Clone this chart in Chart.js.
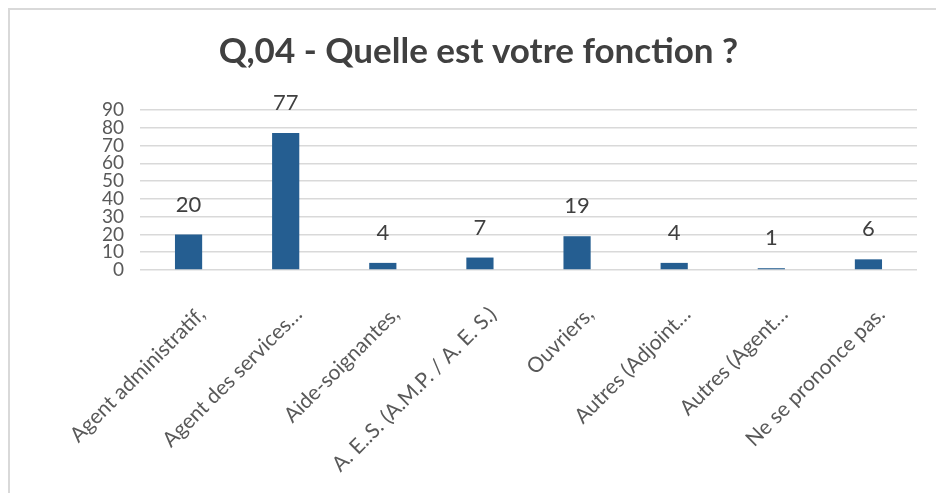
<!DOCTYPE html>
<html>
<head>
<meta charset="utf-8">
<script src="https://cdn.jsdelivr.net/npm/chart.js@4.4.1/dist/chart.umd.min.js"></script>
<style>
  html, body { margin: 0; padding: 0; background: #ffffff; }
  #wrap { position: relative; width: 936px; height: 493px; overflow: hidden; }
  #frame { position: absolute; left: 8px; top: 8px; width: 940px; height: 500px;
           border-left: 2px solid #d9d9d9; border-top: 2px solid #d9d9d9; box-sizing: border-box; }
  canvas { position: absolute; left: 0; top: 0; }
</style>
</head>
<body>
<div id="wrap">
  <div id="frame"></div>
  <canvas id="c" width="936" height="493"></canvas>
</div>
<script>
const titleText = "Q,04 - Quelle est votre fonction ?";
const categories = [
  "Agent administratif,",
  "Agent des services…",
  "Aide-soignantes,",
  "A. E..S. (A.M.P. / A. E. S.)",
  "Ouvriers,",
  "Autres (Adjoint…",
  "Autres (Agent…",
  "Ne se prononce pas."
];
const values = [20, 77, 4, 7, 19, 4, 1, 6];
const yTicks = [0, 10, 20, 30, 40, 50, 60, 70, 80, 90];

const FONT = "Lato, 'Open Sans', sans-serif";

const dataLabels = {
  id: 'dataLabels',
  afterDatasetsDraw(chart) {
    const ctx = chart.ctx;
    const meta = chart.getDatasetMeta(0);
    ctx.save();
    ctx.font = "22px " + FONT;
    ctx.fillStyle = "#404040";
    ctx.textAlign = "center";
    ctx.textBaseline = "middle";
    meta.data.forEach((bar, i) => {
      ctx.fillText(String(values[i]), bar.x, bar.y - 30);
    });
    ctx.restore();
  }
};

new Chart(document.getElementById('c'), {
  type: 'bar',
  data: {
    labels: categories,
    datasets: [{
      data: values,
      backgroundColor: '#255E91',
      borderWidth: 0,
      categoryPercentage: 0.28,
      barPercentage: 1
    }]
  },
  options: {
    responsive: false,
    animation: false,
    layout: { padding: { left: 40, right: 19, top: 0, bottom: 0 } },
    plugins: {
      legend: { display: false },
      tooltip: { enabled: false },
      title: {
        display: true,
        text: titleText,
        color: '#404040',
        font: { family: FONT, size: 35, weight: 'bold', lineHeight: 1.2 },
        padding: { top: 31, bottom: 37 }
      }
    },
    scales: {
      y: {
        min: 0, max: 90,
        afterFit(scale) { scale.width = 100; },
        afterBuildTicks(scale) { scale.ticks = yTicks.map(v => ({ value: v })); },
        grid: { color: '#d9d9d9', lineWidth: 1.5, drawTicks: false },
        border: { display: false },
        ticks: { color: '#595959', font: { family: FONT, size: 19 }, padding: 16, autoSkip: false }
      },
      x: {
        afterFit(scale) { scale.height = 223; },
        grid: { display: false, drawTicks: false },
        border: { display: false },
        ticks: {
          color: '#595959',
          font: { family: FONT, size: 21 },
          maxRotation: 45, minRotation: 45,
          autoSkip: false,
          padding: 32,
          labelOffset: 13
        }
      }
    }
  },
  plugins: [dataLabels]
});
</script>
</body>
</html>
